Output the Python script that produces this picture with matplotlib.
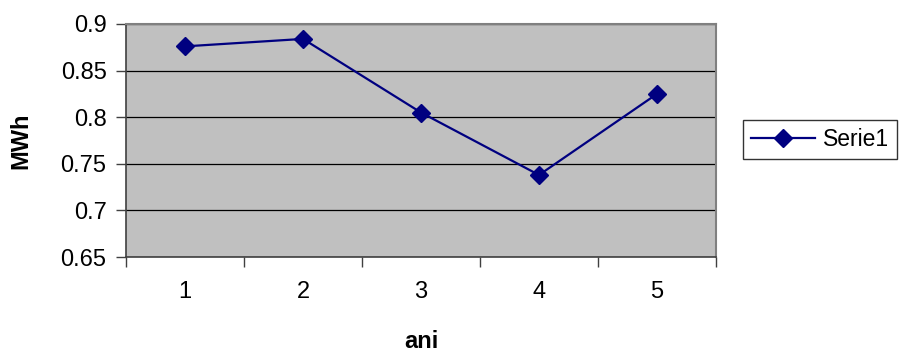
import matplotlib.pyplot as plt
import numpy as np

# date
ani = [1, 2, 3, 4, 5]
mwh = [0.876, 0.884, 0.805, 0.738, 0.825]
y_ticks = [0.65, 0.7, 0.75, 0.8, 0.85, 0.9]
y_labels = ['0.65', '0.7', '0.75', '0.8', '0.85', '0.9']

plt.rcParams['font.family'] = ['Liberation Sans', 'DejaVu Sans']

fig = plt.figure(figsize=(9.03, 3.53), dpi=100)
ax = fig.add_axes([126 / 903, 96 / 353, 590 / 903, 233 / 353])
ax.set_facecolor('#C0C0C0')

ax.plot(ani, mwh, color='#000080', linewidth=1.6, marker='D',
        markersize=9, label='Serie1')

ax.set_xlim(0.5, 5.5)
ax.set_ylim(0.65, 0.9)
ax.set_yticks(y_ticks)
ax.set_yticklabels(y_labels)
ax.yaxis.grid(True, color='black', linewidth=0.9)
ax.set_axisbelow(True)

# etichete centrate, linii de diviziune intre categorii
ax.set_xticks(ani)
ax.set_xticklabels([str(a) for a in ani])
ax.set_xticks(np.arange(0.5, 6.0, 1.0), minor=True)
ax.tick_params(axis='x', which='major', length=0, pad=17, labelsize=17)
ax.tick_params(axis='x', which='minor', length=7, width=1, color='#404040')
ax.tick_params(axis='y', length=7, width=1, color='#404040', labelsize=17,
               pad=7)

for side in ['top', 'right']:
    ax.spines[side].set_color('#808080')
    ax.spines[side].set_linewidth(1.5)
for side in ['left', 'bottom']:
    ax.spines[side].set_color('#404040')
    ax.spines[side].set_linewidth(1.2)

ax.set_xlabel('ani', fontsize=17, fontweight='bold', labelpad=20)
ax.set_ylabel('MWh', fontsize=17, fontweight='bold', labelpad=20)

leg = ax.legend(loc='center left', bbox_to_anchor=(1.046, 0.504),
                borderaxespad=0, fontsize=16.5, frameon=True, fancybox=False,
                edgecolor='black', borderpad=0.35, handlelength=2.8,
                handletextpad=0.35)
leg.get_frame().set_linewidth(1.0)

fig.savefig('out.png', dpi=100)
